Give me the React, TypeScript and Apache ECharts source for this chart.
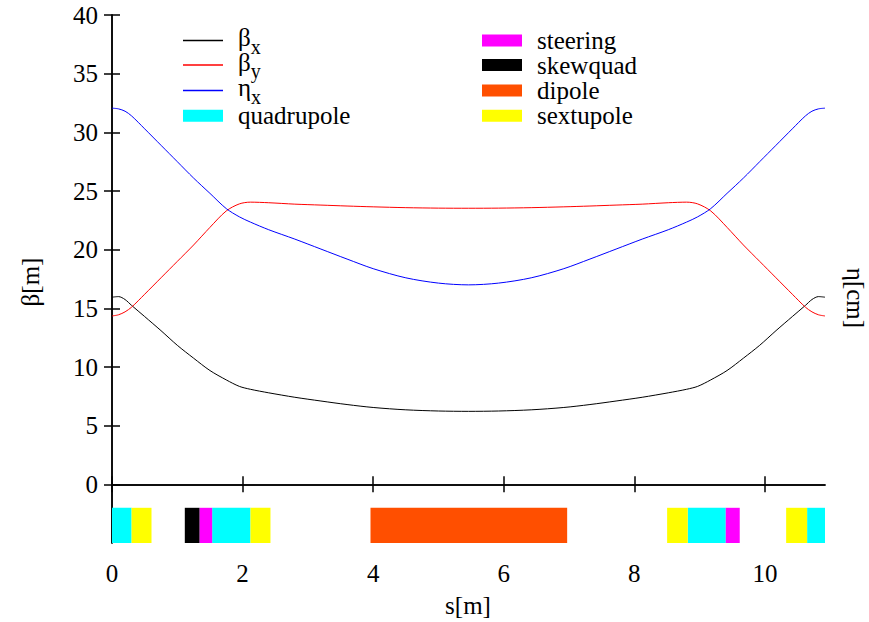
import React, { useEffect, useRef } from "react";
import * as echarts from "echarts";

const sPos = [0, 0.1, 0.2, 0.3, 0.5, 0.75, 1.0, 1.25, 1.5, 1.75, 1.95, 2.12, 2.4, 2.8, 3.2, 3.6, 4.0, 4.5, 5.0, 5.46, 5.92, 6.42, 6.92, 7.32, 7.72, 8.12, 8.52, 8.8, 8.97, 9.17, 9.42, 9.67, 9.92, 10.17, 10.42, 10.62, 10.72, 10.82, 10.92];
const betaX = [15.95, 16.0, 15.75, 15.25, 14.3, 13.1, 11.85, 10.75, 9.7, 8.9, 8.35, 8.1, 7.8, 7.42, 7.1, 6.8, 6.55, 6.35, 6.25, 6.22, 6.25, 6.35, 6.55, 6.8, 7.1, 7.42, 7.8, 8.1, 8.35, 8.9, 9.7, 10.75, 11.85, 13.1, 14.3, 15.25, 15.75, 16.0, 15.95];
const betaY = [14.35, 14.45, 14.7, 15.1, 16.2, 17.6, 19.0, 20.4, 21.9, 23.3, 23.9, 24.05, 24.0, 23.88, 23.8, 23.72, 23.65, 23.58, 23.54, 23.53, 23.54, 23.58, 23.65, 23.72, 23.8, 23.88, 24.0, 24.05, 23.9, 23.3, 21.9, 20.4, 19.0, 17.6, 16.2, 15.1, 14.7, 14.45, 14.35];
const etaX = [32.06, 32.0, 31.8, 31.4, 30.3, 28.9, 27.5, 26.1, 24.8, 23.5, 22.8, 22.35, 21.7, 20.9, 20.05, 19.2, 18.38, 17.6, 17.15, 17.0, 17.15, 17.6, 18.38, 19.2, 20.05, 20.9, 21.7, 22.35, 22.8, 23.5, 24.8, 26.1, 27.5, 28.9, 30.3, 31.4, 31.8, 32.0, 32.06];

const quadrupole = [[0, 0.3], [1.534, 2.121], [8.818, 9.4], [10.646, 10.92]];
const sextupole = [[0.3, 0.605], [2.121, 2.427], [8.502, 8.818], [10.325, 10.646]];
const steering = [[1.34, 1.534], [9.4, 9.614]];
const skewquad = [[1.115, 1.34]];
const dipole = [[3.959, 6.971]];

const xTicks = [0, 2, 4, 6, 8, 10];
const yTicks = [0, 5, 10, 15, 20, 25, 30, 35, 40];
const sMax = 10.92;
const elemTop = -2;
const elemBottom = -5;

const FONT = "'Liberation Serif', 'Times New Roman', serif";

const COLORS: Record<string, string> = {
  bx: "#000000",
  by: "#ff0000",
  ex: "#0000ff",
  quadrupole: "#00ffff",
  sextupole: "#ffff00",
  steering: "#ff00ff",
  skewquad: "#000000",
  dipole: "#ff4f00",
};

export default function App() {
  const ref = useRef<HTMLDivElement>(null);
  useEffect(() => {
    if (!ref.current) return;
    const chart = echarts.init(ref.current, null, { renderer: "svg" });

    const elemSeries = (name: string, data: number[][]) => ({
      name,
      type: "custom",
      xAxisIndex: 0,
      yAxisIndex: 0,
      clip: true,
      itemStyle: { color: COLORS[name] },
      encode: { x: [0, 1], y: [] },
      data,
      renderItem: (params: any, api: any) => {
        const p0 = api.coord([api.value(0), elemTop]);
        const p1 = api.coord([api.value(1), elemBottom]);
        return {
          type: "rect",
          shape: { x: p0[0], y: p0[1], width: p1[0] - p0[0], height: p1[1] - p0[1] },
          style: { fill: COLORS[name] },
        };
      },
      z: 1,
    });

    const lineSeries = (name: string, vals: number[]) => ({
      name,
      type: "line",
      data: sPos.map((s, i) => [s, vals[i]]),
      symbol: "none",
      smooth: 0.3,
      lineStyle: { color: COLORS[name], width: 1 },
      itemStyle: { color: COLORS[name] },
      z: 3,
    });

    const labelMap: Record<string, string> = {
      bx: "{m|β}{s|x}",
      by: "{m|β}{s|y}",
      ex: "{m|η}{s|x}",
    };
    const rowCenters = [40, 64.5, 90, 115.3];
    const mkLegend = (name: string, left: number, row: number) => {
      const isLine = !!labelMap[name];
      return {
        data: [{ name, icon: "rect", itemStyle: { color: COLORS[name] } }],
        left,
        top: rowCenters[row] - (isLine ? 15 : 12),
        orient: "vertical",
        padding: 0,
        itemWidth: 40,
        itemHeight: isLine ? 1.3 : 12,
        selectedMode: false,
        formatter: (n: string) => labelMap[n] || n,
        textStyle: isLine
          ? {
              fontFamily: FONT,
              fontSize: 25,
              color: "#000",
              padding: [0, 0, 0, 10],
              rich: {
                m: { fontFamily: FONT, fontSize: 25, color: "#000", height: 24, padding: [0, 0, 6, 0] },
                s: { fontFamily: FONT, fontSize: 20, color: "#000", height: 18, padding: [12, 0, 0, 0] },
              },
            }
          : {
              fontFamily: FONT,
              fontSize: 25,
              color: "#000",
              lineHeight: 24,
              padding: [0, 0, 0, 10],
            },
      };
    };

    const axisCommon = {
      type: "value",
      axisLine: { show: true, lineStyle: { color: "#000", width: 1.5 } },
      axisTick: { show: true, inside: true, length: 8, lineStyle: { color: "#000", width: 1.5 } },
      splitLine: { show: false },
    };

    chart.setOption({
      animation: false,
      backgroundColor: "#fff",
      grid: { left: 112, right: 44, top: 15, bottom: 79 },
      xAxis: [
        {
          ...axisCommon,
          position: "bottom",
          min: 0,
          max: sMax,
          interval: 2,
          axisLabel: {
            show: true,
            margin: 18,
            fontFamily: FONT,
            fontSize: 25,
            color: "#000",
            customValues: xTicks,
          },
          axisTick: { ...axisCommon.axisTick, customValues: xTicks },
        },
        {
          ...axisCommon,
          position: "top",
          min: 0,
          max: sMax,
          interval: 2,
          axisLabel: { show: false },
          axisTick: { ...axisCommon.axisTick, customValues: xTicks },
        },
      ],
      yAxis: [
        {
          ...axisCommon,
          position: "left",
          min: -5,
          max: 40,
          interval: 5,
          axisLabel: {
            show: true,
            margin: 14,
            fontFamily: FONT,
            fontSize: 25,
            color: "#000",
            customValues: yTicks,
          },
          axisTick: { ...axisCommon.axisTick, customValues: yTicks },
        },
        {
          ...axisCommon,
          position: "right",
          min: -5,
          max: 40,
          interval: 5,
          axisLabel: { show: false },
          axisTick: { ...axisCommon.axisTick, customValues: yTicks },
        },
      ],
      legend: [
        mkLegend("bx", 183, 0),
        mkLegend("by", 183, 1),
        mkLegend("ex", 183, 2),
        mkLegend("quadrupole", 183, 3),
        mkLegend("steering", 482, 0),
        mkLegend("skewquad", 482, 1),
        mkLegend("dipole", 482, 2),
        mkLegend("sextupole", 482, 3),
      ],
      graphic: [
        {
          type: "text",
          x: 30,
          y: 282,
          rotation: Math.PI / 2,
          style: { text: "β[m]", fontFamily: FONT, fontSize: 25, fill: "#000", align: "center", verticalAlign: "middle" },
        },
        {
          type: "text",
          x: 468,
          y: 605,
          style: { text: "s[m]", fontFamily: FONT, fontSize: 25, fill: "#000", align: "center", verticalAlign: "middle" },
        },
        {
          type: "text",
          x: 855,
          y: 298,
          rotation: -Math.PI / 2,
          style: { text: "η[cm]", fontFamily: FONT, fontSize: 25, fill: "#000", align: "center", verticalAlign: "middle" },
        },
      ],
      series: [
        elemSeries("quadrupole", quadrupole),
        elemSeries("sextupole", sextupole),
        elemSeries("steering", steering),
        elemSeries("skewquad", skewquad),
        elemSeries("dipole", dipole),
        lineSeries("bx", betaX),
        lineSeries("by", betaY),
        lineSeries("ex", etaX),
      ],
    });
    return () => chart.dispose();
  }, []);
  return <div ref={ref} style={{ width: 869, height: 622, position: "absolute", left: 0, top: 0 }} />;
}
